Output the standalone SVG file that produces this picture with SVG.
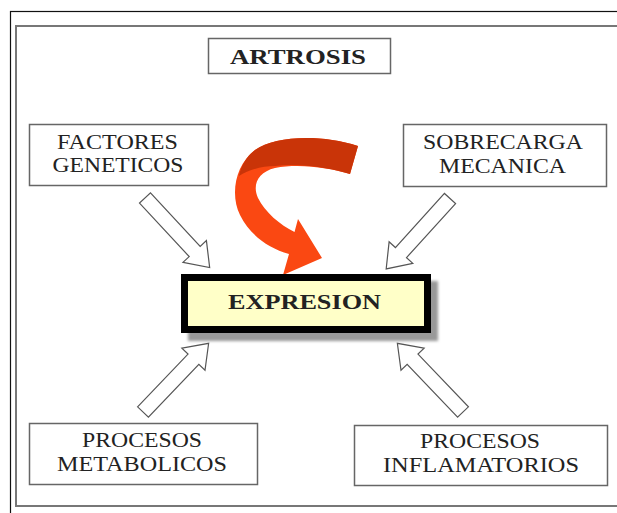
<svg xmlns="http://www.w3.org/2000/svg" width="617" height="513" viewBox="0 0 617 513">
<style>
.box{fill:#fff;stroke:#666;stroke-width:1.5}
.t{font-family:"Liberation Serif","Times New Roman",serif;font-size:21px;fill:#222;text-anchor:middle}
.b{font-weight:bold}
.blk{fill:#fff;stroke:#555;stroke-width:1.2;stroke-linejoin:miter}
</style>
<defs>
<polygon id="blk" points="0,-7.5 73,-7.5 73,-16 95,0 73,16 73,7.5 0,7.5"/>
<filter id="sh" x="-10%" y="-20%" width="120%" height="140%"><feGaussianBlur stdDeviation="1.5"/></filter>
</defs>
<rect width="617" height="513" fill="#fff"/>
<rect x="10.5" y="11.5" width="640" height="540" fill="none" stroke="#111" stroke-width="1.2"/>
<rect x="16" y="26" width="640" height="480" fill="none" stroke="#777" stroke-width="2"/>

<g id="artrosis">
<rect class="box" x="208.5" y="38.5" width="182" height="35"/>
<text class="t b" x="298" y="64" font-size="24" textLength="136" lengthAdjust="spacingAndGlyphs">ARTROSIS</text>
</g>
<g id="factores">
<rect class="box" x="29.5" y="124.5" width="179" height="61"/>
<text class="t" x="117.5" y="149" textLength="121" lengthAdjust="spacingAndGlyphs">FACTORES</text>
<text class="t" x="118" y="172" textLength="131" lengthAdjust="spacingAndGlyphs">GENETICOS</text>
</g>
<g id="sobrecarga">
<rect class="box" x="403.5" y="124.5" width="203" height="62"/>
<text class="t" x="503" y="149" textLength="160" lengthAdjust="spacingAndGlyphs">SOBRECARGA</text>
<text class="t" x="502.5" y="173" textLength="127" lengthAdjust="spacingAndGlyphs">MECANICA</text>
</g>
<g id="metabolicos">
<rect class="box" x="29.5" y="423.5" width="228" height="61"/>
<text class="t" x="142" y="447" textLength="120" lengthAdjust="spacingAndGlyphs">PROCESOS</text>
<text class="t" x="142" y="471" textLength="170" lengthAdjust="spacingAndGlyphs">METABOLICOS</text>
</g>
<g id="inflamatorios">
<rect class="box" x="354.5" y="425.5" width="253" height="60"/>
<text class="t" x="480" y="448" textLength="120" lengthAdjust="spacingAndGlyphs">PROCESOS</text>
<text class="t" x="481" y="472" textLength="196" lengthAdjust="spacingAndGlyphs">INFLAMATORIOS</text>
</g>

<g id="connectors">
<use href="#blk" class="blk" transform="translate(145,198) rotate(47.1)"/>
<use href="#blk" class="blk" transform="translate(450,198.5) rotate(132.2)"/>
<use href="#blk" class="blk" transform="translate(143,412) rotate(-46.3)"/>
<use href="#blk" class="blk" transform="translate(463,412) rotate(-133.7)"/>
<path d="M358,146 C320,134 275,136 255,150 C235,165 230,195 240,215 C250,235 268,248 289,254 L283,275 L322,258 L298,219 L294.5,232 C280,225 265,212 258,198 C252,185 258,172 275,168 C300,163 330,168 350,174 Z" fill="#FA4812"/>
<path d="M358,146 C320,134 275,136 255,150 C246,157 241,166 239,176 C248,170 262,166 275,166 C300,163 330,168 350,174 Z" fill="#C93408"/>
</g>

<g id="expresion">
<rect x="188" y="281" width="250" height="60" fill="#999" filter="url(#sh)"/>
<rect x="184.5" y="277.5" width="243" height="52" fill="#FFFFC8" stroke="#000" stroke-width="7"/>
<text class="t b" x="304.5" y="309" font-size="22" textLength="153" lengthAdjust="spacingAndGlyphs">EXPRESION</text>
</g>
</svg>
